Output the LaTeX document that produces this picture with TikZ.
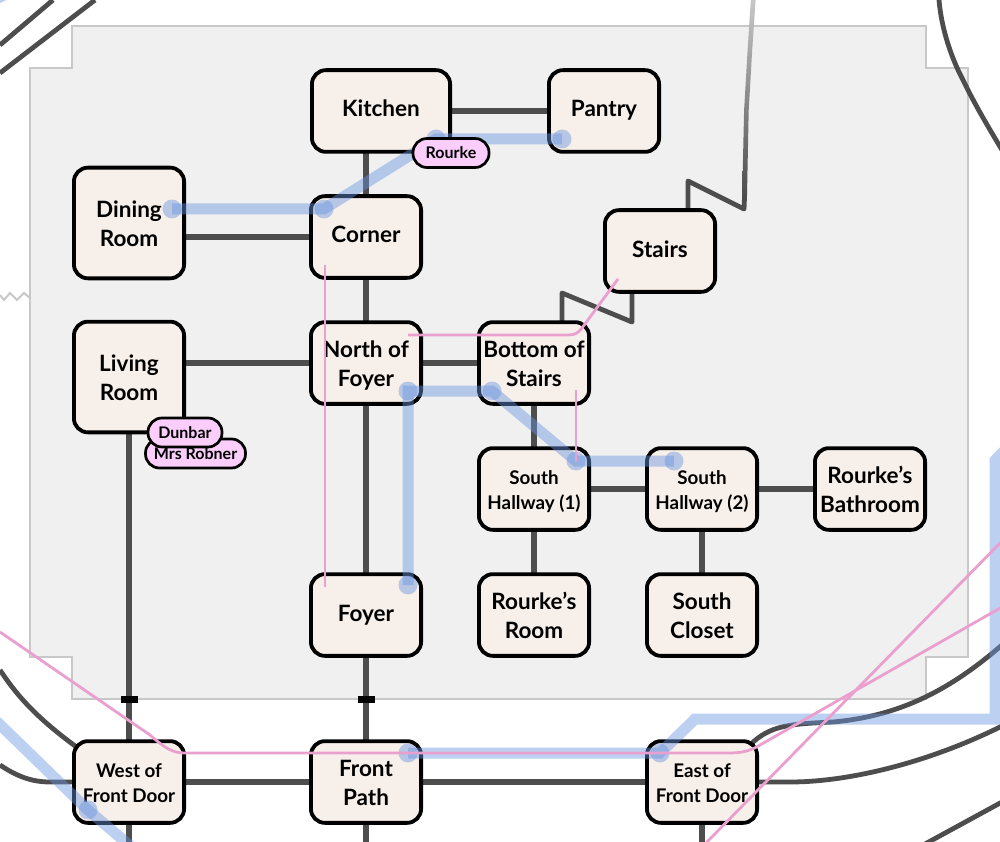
\documentclass[tikz,border=0pt]{standalone}
\usepackage{fontspec}
\setmainfont{Lato}
\usetikzlibrary{calc}
\definecolor{regfill}{HTML}{F0F0F0}
\definecolor{regline}{HTML}{C8C8C8}
\definecolor{edgecol}{HTML}{4D4D4D}
\definecolor{roomfill}{HTML}{F7EFE9}
\definecolor{bluecol}{HTML}{6A96E0}
\definecolor{pinkcol}{HTML}{E9A0CE}
\definecolor{pillfill}{HTML}{FBCDFB}
\newcommand\oneline[1]{\rule[-5pt]{0pt}{22pt}#1}
\newcommand\twolines[2]{\rule{0pt}{22pt}#1\\#2\rule[-4pt]{0pt}{4pt}}
\newcommand\twosmall[2]{\rule{0pt}{20pt}#1\\#2\rule[-4pt]{0pt}{4pt}}
\tikzset{
  x=1pt,y=-1pt,
  room/.style={draw=black,line width=3.8pt,fill=roomfill,rounded corners=14pt,inner sep=0pt,outer sep=0pt,
    minimum width=#1,minimum height=81.7pt,align=center,text=black,font=\fontsize{22.5}{29}\selectfont\bfseries},
  room/.default=110.2pt,
  small/.style={font=\fontsize{18.8}{25.5}\selectfont\bfseries},
  edgeline/.style={draw=edgecol,line width=5.4pt},
  outline/.style={draw=edgecol,line width=4.8pt},
  bluepath/.style={draw=bluecol,draw opacity=.45,line width=11pt,line join=miter},
  bluedot/.style={circle,fill=bluecol,fill opacity=.45,inner sep=0pt,minimum size=19pt,draw=none},
  pinkline/.style={draw=pinkcol,line width=2.8pt},
  pill/.style={draw=black,line width=2.7pt,fill=pillfill,rounded corners=14pt,inner sep=0pt,minimum height=29pt,
    font=\fontsize{16}{18}\selectfont\bfseries,text=black},
  door/.style={fill=black,draw=none,minimum width=17pt,minimum height=7pt,inner sep=0pt},
}
\begin{document}
\begin{tikzpicture}
\useasboundingbox (0,0) rectangle (1000,842);
\clip (0,0) rectangle (1000,842);
\coordinate (tlA) at (0,45); \coordinate (tlB) at (53,0);
\coordinate (tlC) at (0,73); \coordinate (tlD) at (95,0);
% region
\draw[fill=regfill,draw=regline,line width=2.5pt]
 (72,26)--(926,26)--(926,68)--(968,68)--(968,657)--(926,657)--(926,699)--(72,699)--(72,657)--(30,657)--(30,68)--(72,68)--cycle;
\draw[regline,line width=2pt] (0,295)--(4,300)--(10,293)--(17,300)--(24,293)--(30,298);
% room centres
\path[name prefix=p-]
 (381,111) coordinate (kitchen) (604,111) coordinate (pantry) (129,223) coordinate (dining) (366,237) coordinate (corner)
 (660,251) coordinate (stairs) (129,377) coordinate (living) (366,363) coordinate (north) (534,363) coordinate (bottom)
 (534,489) coordinate (shA) (702,489) coordinate (shB) (870,489) coordinate (bath) (534,615) coordinate (rroom)
 (702,615) coordinate (closet) (366,615) coordinate (foyer) (129,782) coordinate (west) (366,782) coordinate (front) (702,782) coordinate (east);
% connectors
\draw[edgeline] (p-kitchen) -- (p-pantry);
\draw[edgeline] (p-corner) -- (p-corner |- p-kitchen);
\draw[edgeline] (p-dining |- p-corner) -- (p-corner);
\draw[edgeline] (p-corner) -- (p-north);
\draw[edgeline] (p-living |- p-north) -- (p-north);
\draw[edgeline] (p-north) -- (p-bottom);
\draw[edgeline] (p-north) -- (p-foyer);
\draw[edgeline] (p-bottom) -- (p-shA);
\draw[edgeline] (p-shA) -- (p-shB);
\draw[edgeline] (p-shB) -- (p-bath);
\draw[edgeline] (p-shA) -- (p-rroom);
\draw[edgeline] (p-shB) -- (p-closet);
\draw[edgeline] (p-living) -- (p-west);
\draw[edgeline] (p-foyer) -- (p-front);
\draw[edgeline] (p-west) -- (p-front);
\draw[edgeline] (p-front) -- (p-east);
\draw[edgeline] (p-west) -- ++(0,80);
\draw[edgeline] (p-front) -- ++(0,80);
\draw[edgeline] (p-east) -- ++(0,80);
\draw[outline,line join=round] (562,325) -- (562,293) -- (632,322) -- (632,290);
\draw[outline,line join=round] (688,212) -- (688,181) -- (744,209) -- (744.6,195);
\shade[bottom color=edgecol,top color=regline] (742.2,195) -- (744.1,110) -- (747.6,50) -- (750.8,0) -- (755.6,0) -- (752.2,50) -- (748.7,110) -- (747,195) -- cycle;
% outer edges
\draw[outline] (tlA) -- (tlB);
\draw[outline] (tlC) -- (tlD);
\draw[outline] (939,0) .. controls (942,35) and (955,65) .. (963,80) .. controls (975,105) and (990,130) .. (1002,150);
\draw[outline] (0,670) .. controls (20,700) and (45,730) .. (p-west);
\draw[outline] (0,765) .. controls (15,775) and (30,782) .. (50,782) -- (p-west);
\draw[outline] (750,745) .. controls (770,725) and (790,724) .. (833,722) .. controls (900,716) and (950,690) .. (1002,645);
\draw[outline] (p-east) -- (790,782) .. controls (850,782) and (930,762) .. (1002,726);
\draw[outline] (925,844) -- (1002,802);
% doors
\node[door] (doorA) at (129,699.5) {};
\node[door] (doorB) at (366,699.5) {};
% rooms
\node[room=138.2pt] (kitchen) at (p-kitchen) {\oneline{Kitchen}};
\node[room] (pantry) at (p-pantry) {\oneline{Pantry}};
\node[room,minimum height=110.7pt] (dining) at (p-dining) {\twolines{Dining}{Room}};
\node[room] (corner) at (p-corner) {\oneline{Corner}};
\node[room] (stairs) at (p-stairs) {\oneline{Stairs}};
\node[room,minimum height=110.7pt] (living) at (p-living) {\twolines{Living}{Room}};
\node[room] (north) at (p-north) {\twolines{North of}{Foyer}};
\node[room] (bottom) at (p-bottom) {\twolines{Bottom of}{Stairs}};
\node[room,small] (shA) at (p-shA) {\twosmall{South}{Hallway (1)}};
\node[room,small] (shB) at (p-shB) {\twosmall{South}{Hallway (2)}};
\node[room] (bath) at (p-bath) {\twolines{Rourke’s}{Bathroom}};
\node[room] (rroom) at (p-rroom) {\twolines{Rourke’s}{Room}};
\node[room] (closet) at (p-closet) {\twolines{South}{Closet}};
\node[room] (foyer) at (p-foyer) {\oneline{Foyer}};
\node[room,small] (west) at (p-west) {\twosmall{West of}{Front Door}};
\node[room] (front) at (p-front) {\twolines{Front}{Path}};
\node[room,small] (east) at (p-east) {\twosmall{East of}{Front Door}};
% blue tracks
\coordinate (bDining) at (172,209); \coordinate (bCorner) at (324,209); \coordinate (bKitchen) at (436,139); \coordinate (bPantry) at (562,139);
\coordinate (bNorth) at (408,391); \coordinate (bFoyer) at (408,585); \coordinate (bBottom) at (492,391);
\coordinate (bShA) at (576,461); \coordinate (bShB) at (674,461);
\coordinate (bFront) at (408,753); \coordinate (bEast) at (660,753);
\coordinate (bWest) at (88,810);
\draw[bluepath] (bDining) -- (bCorner) -- (bKitchen) -- (bPantry);
\draw[bluepath] (bFoyer) -- (bNorth) -- (bBottom) -- (bShA) -- (bShB);
\draw[bluepath] (bFront) -- (bEast) -- (695,719) -- (995,719) -- (995,460.3) -- (1015,440);
\draw[bluepath] (-10,715) -- (bWest) -- (135,850);
\draw[bluepath] (-6,0) -- (6,-6);
\foreach \p in {bDining,bCorner,bKitchen,bPantry,bNorth,bFoyer,bBottom,bShA,bShB,bFront,bEast,bWest}
  \node[bluedot] (dot\p) at (\p) {};
% pink tracks
\coordinate (pA) at (325,265); \coordinate (pB) at (325,587);
\coordinate (pC) at (408,335); \coordinate (pD) at (618,279);
\coordinate (pE) at (576,390); \coordinate (pF) at (576,462);
\draw[pinkline] (pA) -- (pB);
\draw[pinkline] (pC) -- (568,335) .. controls (575,335) and (578,333) .. (582,328) -- (pD);
\draw[pinkline] (pE) -- (pF);
\draw[pinkline] (0,632) -- (150,735) .. controls (165,748) and (172,753) .. (185,753) -- (728,753) .. controls (742,753) and (750,751) .. (760,745) -- (1002,607);
\draw[pinkline] (705,844) -- (1002,541);
% pills
\node[pill,minimum width=100pt] (robner) at (195.5,453.5) {Mrs Robner};
\node[pill,minimum width=74pt] (dunbar) at (185,432.5) {Dunbar};
\node[pill,minimum width=76pt] (rourke) at (451,153) {Rourke};
\end{tikzpicture}
\end{document}
